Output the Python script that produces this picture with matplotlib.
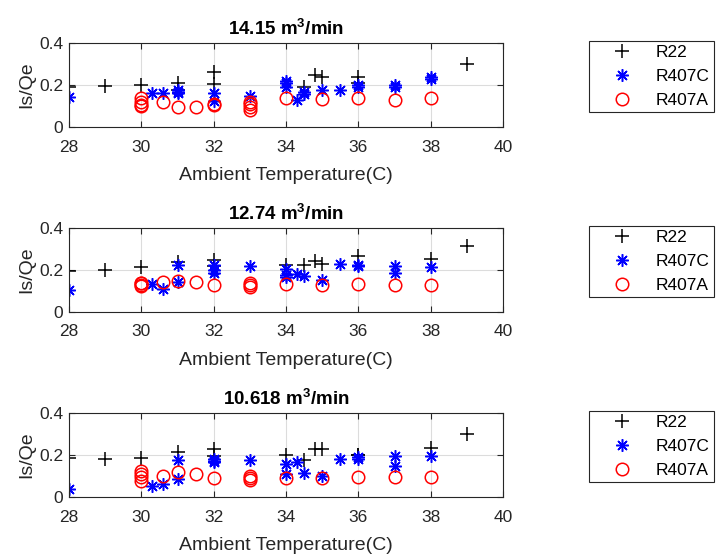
import matplotlib
matplotlib.use("Agg")
import matplotlib.pyplot as plt

plt.rcParams['font.family'] = ['Liberation Sans', 'DejaVu Sans']

titles = ['14.15', '12.74', '10.618']

# panel 1 (14.15 m3/min)
r22_t1 = [28, 29, 30, 31, 31, 32, 32, 34.5, 34.8, 35, 36, 36, 39]
r22_v1 = [0.19, 0.195, 0.20, 0.21, 0.175, 0.26, 0.206, 0.19, 0.246, 0.24, 0.24, 0.21, 0.30]
c_t1 = [28, 30.3, 30.6, 31, 31, 31, 32, 32, 33, 34, 34, 34, 34.3, 34.5, 34.5, 35, 35.5, 36, 36, 37, 37, 38, 38]
c_v1 = [0.145, 0.16, 0.16, 0.175, 0.165, 0.16, 0.16, 0.125, 0.15, 0.22, 0.21, 0.19, 0.13, 0.165, 0.155, 0.175, 0.177, 0.19, 0.2, 0.2, 0.19, 0.23, 0.24]
a_t1 = [30, 30, 30, 30, 30.6, 31, 31.5, 32, 32, 33, 33, 33, 33, 34, 35, 36, 37, 38]
a_v1 = [0.137, 0.12, 0.105, 0.10, 0.117, 0.096, 0.096, 0.11, 0.105, 0.12, 0.11, 0.095, 0.08, 0.137, 0.135, 0.14, 0.13, 0.138]

# panel 2 (12.74 m3/min)
r22_t2 = [28, 29, 30, 31, 32, 32, 34, 34.5, 34.8, 35, 36, 38, 39]
r22_v2 = [0.197, 0.20, 0.213, 0.24, 0.25, 0.217, 0.225, 0.225, 0.245, 0.23, 0.265, 0.254, 0.313]
c_t2 = [28, 30.3, 30.6, 31, 31, 32, 32, 32, 33, 34, 34, 34, 34.3, 34.5, 35, 35.5, 36, 36, 37, 37, 38]
c_v2 = [0.103, 0.133, 0.11, 0.225, 0.143, 0.225, 0.2, 0.185, 0.22, 0.206, 0.178, 0.165, 0.183, 0.17, 0.154, 0.229, 0.22, 0.225, 0.217, 0.186, 0.213]
a_t2 = [30, 30, 30, 30, 30.6, 31, 31.5, 32, 33, 33, 33, 34, 35, 36, 37, 38]
a_v2 = [0.138, 0.13, 0.125, 0.14, 0.143, 0.146, 0.141, 0.13, 0.138, 0.127, 0.12, 0.133, 0.127, 0.135, 0.127, 0.127]

# panel 3 (10.618 m3/min)
r22_t3 = [28, 29, 30, 31, 32, 32, 34, 34.5, 34.8, 35, 36, 36, 38, 39]
r22_v3 = [0.188, 0.18, 0.185, 0.212, 0.227, 0.193, 0.2, 0.177, 0.227, 0.227, 0.2, 0.2, 0.232, 0.298]
c_t3 = [28, 30.3, 30.6, 31, 31, 32, 32, 32, 33, 34, 34, 34.3, 34.5, 35, 35.5, 36, 36, 37, 37, 38]
c_v3 = [0.04, 0.052, 0.063, 0.177, 0.086, 0.18, 0.165, 0.173, 0.177, 0.157, 0.11, 0.168, 0.113, 0.1, 0.18, 0.18, 0.19, 0.193, 0.15, 0.196]
a_t3 = [30, 30, 30, 30, 30.6, 31, 31.5, 32, 33, 33, 33, 34, 35, 36, 37, 38]
a_v3 = [0.125, 0.11, 0.094, 0.078, 0.099, 0.118, 0.11, 0.091, 0.102, 0.089, 0.082, 0.091, 0.089, 0.094, 0.094, 0.094]

panels = [
    (r22_t1, r22_v1, c_t1, c_v1, a_t1, a_v1),
    (r22_t2, r22_v2, c_t2, c_v2, a_t2, a_v2),
    (r22_t3, r22_v3, c_t3, c_v3, a_t3, a_v3),
]

fig = plt.figure(figsize=(7.18, 5.58), dpi=100)
W, H = 718, 558
tops = [43, 228, 413]
ax_h = 84

for i in range(3):
    ax = fig.add_axes([69 / W, 1 - (tops[i] + ax_h) / H, 434 / W, ax_h / H])
    rt, rv, ct, cv, at, av = panels[i]
    ax.plot(rt, rv, ls='none', marker='+', color='black', ms=10, mew=1.1, label='R22')
    ax.plot(ct, cv, ls='none', marker=(8, 2, 0), color='blue', ms=9, mew=1.1, label='R407C')
    ax.plot(at, av, ls='none', marker='o', mfc='none', mec='red', ms=9, mew=1.1, label='R407A')
    ax.set_xlim(28, 40)
    ax.set_ylim(0, 0.4)
    ax.set_xticks([28, 30, 32, 34, 36, 38, 40])
    ax.set_yticks([0, 0.2, 0.4])
    ax.set_yticklabels(['0', '0.2', '0.4'])
    ax.grid(True, color='#dcdcdc', lw=0.8)
    ax.set_axisbelow(True)
    ax.tick_params(direction='in', top=True, right=True, labelsize=12.5, length=4, colors='#262626')
    ax.tick_params(axis='x', pad=9)
    ax.tick_params(axis='y', pad=4)
    for s in ax.spines.values():
        s.set_color('#262626')
    ax.set_title(titles[i] + r' m$^{\mathregular{3}}$/min', fontsize=13.5, fontweight='bold', pad=6)
    ax.set_xlabel('Ambient Temperature(C)', fontsize=14, color='#262626', labelpad=9)
    ax.set_ylabel('Is/Qe', fontsize=14, color='#262626', labelpad=3)
    leg = ax.legend(loc='upper left', bbox_to_anchor=(1.198, 1.025), fontsize=12.5,
                    fancybox=False, edgecolor='#262626', framealpha=1, borderaxespad=0,
                    borderpad=0.25, labelspacing=0.5, handletextpad=0.3, handlelength=3.3)
    leg.get_frame().set_linewidth(0.8)

fig.savefig('out.png', dpi=100)
